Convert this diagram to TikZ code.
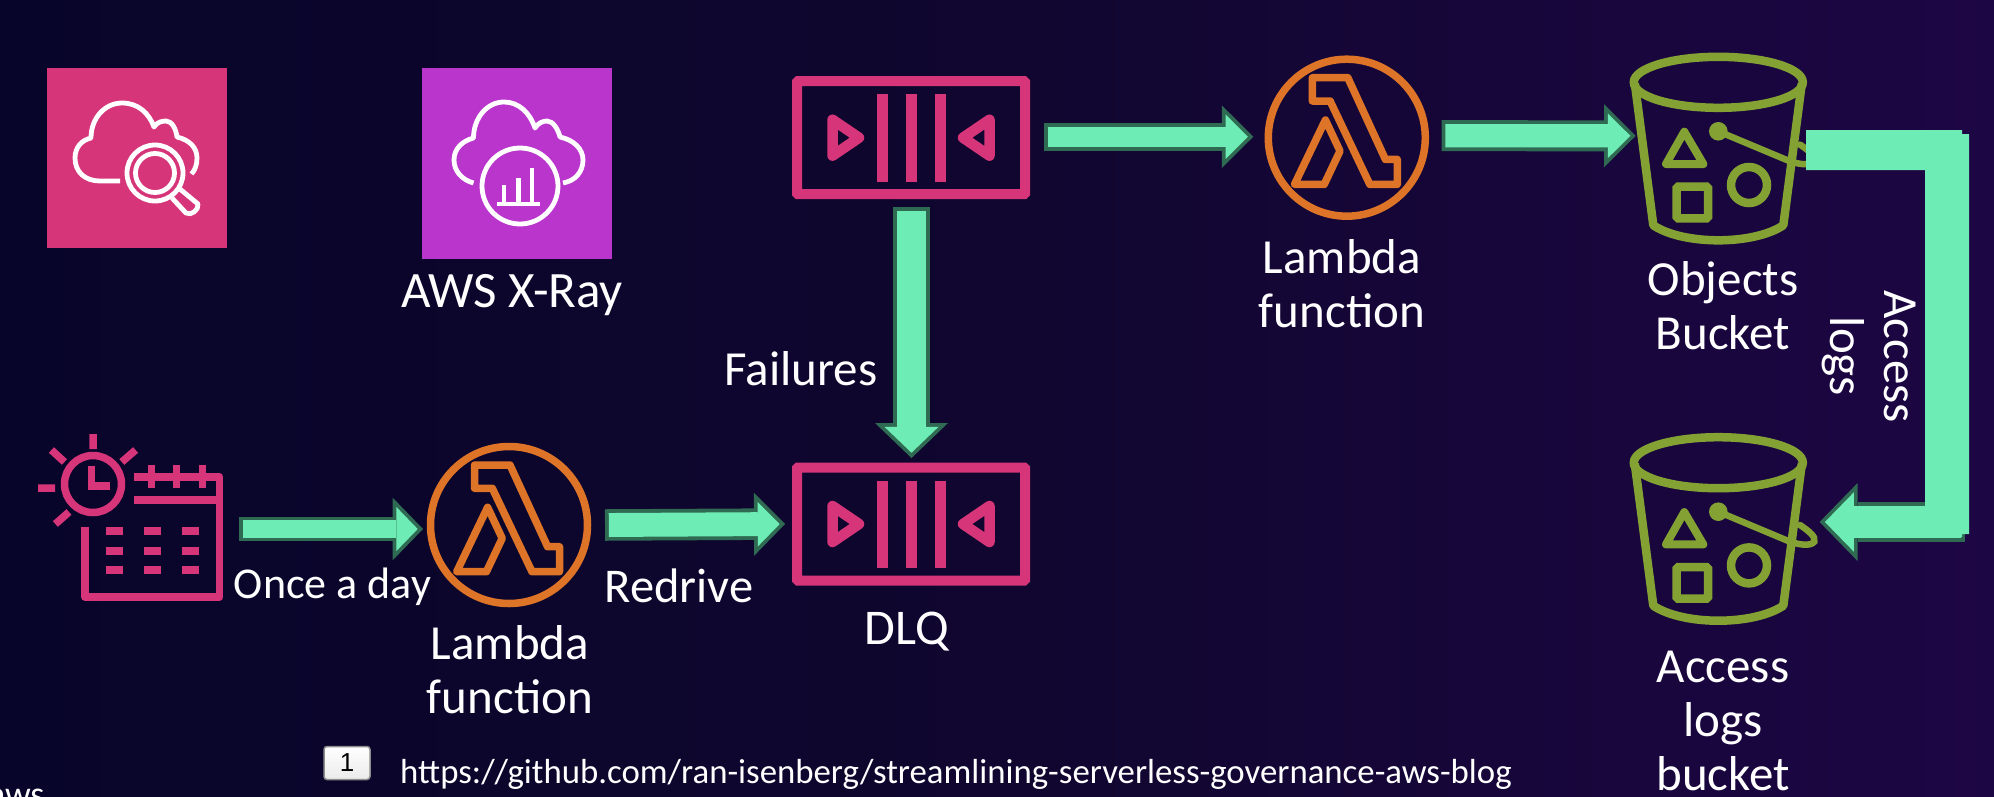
\documentclass[tikz,border=0pt]{standalone}
\usepackage{fontspec}
\setmainfont{Carlito}
\newfontfamily\keyfont{Liberation Sans}
\usetikzlibrary{arrows.meta,calc}
\definecolor{bgL}{HTML}{08052A}
\definecolor{bgM}{HTML}{10062F}
\definecolor{bgR}{HTML}{1D0644}
\definecolor{pinkc}{HTML}{D6357A}
\definecolor{purplec}{HTML}{B935CC}
\definecolor{orangec}{HTML}{DE7427}
\definecolor{olivec}{HTML}{84A233}
\definecolor{flowlight}{HTML}{6DEDB5}
\definecolor{flowdark}{HTML}{2F6B53}
\tikzset{
  box/.style={inner sep=0pt,outer sep=0pt,minimum width=#1},
  txt/.style={text=white,inner sep=0pt,outer sep=0pt,align=center,font=\fontsize{49}{54}\selectfont},
  whiteicon/.style={draw=white,line width=4.8pt,line join=round},
  pinkline/.style={draw=pinkc,line width=7.5pt},
  queuepic/.pic={
    \draw[pinkc,line width=10pt,rounded corners=1pt] (-114,-56.5) rectangle (114,56.5);
    \foreach \bx in {-29,0,29} \draw[pinkc,line width=11pt] (\bx,-43.5) -- (\bx,44);
    \draw[pinkc,line width=10.5pt,line join=round] (-78.5,-18) -- (-52,0) -- (-78.5,18) -- cycle;
    \draw[pinkc,line width=10.5pt,line join=round] (78.5,-18) -- (52,0) -- (78.5,18) -- cycle;
  },
  lambdapic/.pic={
    \draw[orangec,line width=7.5pt] (0,0) circle (78.5);
    \draw[orangec,line width=7.5pt,line join=round] (-34.5,-60) -- (1,-60) -- (38.6,21.7) -- (50.5,21.7) -- (50.5,46.7) -- (23,46.7) -- (-16.7,-36.7) -- (-34.5,-36.7) -- cycle;
    \draw[orangec,line width=7.5pt,line join=round] (-21.4,-17.7) -- (-6.8,13.3) -- (-22.6,46.7) -- (-52.3,46.7) -- cycle;
  },
  bucketpic/.pic={
    \draw[olivec,line width=8.5pt] (0,0) ellipse [x radius=84.5,y radius=25.5];
    \draw[olivec,line width=8.5pt,line join=round] (-83.5,1) -- (-65,143) .. controls (-50,153) and (-25,158) .. (0,158) .. controls (25,158) and (50,153) .. (65,143) -- (83.5,1);
    \draw[olivec,line width=8pt,line join=round] (-34,49.4) -- (-52.3,81.7) -- (-15,81.7) -- cycle;
    \draw[olivec,line width=8.5pt,rounded corners=1.5pt] (-41.6,104.4) rectangle (-10.3,136);
    \draw[olivec,line width=8.5pt] (30.7,102.7) circle (18);
    \fill[olivec] (0,49) circle (9.3);
    \draw[olivec,line width=6.5pt,line cap=round] (0,49) -- (70,78.3) .. controls (80,82) and (92,84) .. (96,79) .. controls (98,74) and (90,68) .. (81.7,62.3);
  },
}
\newcommand{\flow}[5]{%
  \pgfmathsetmacro{\flowT}{3.8}%
  \pgfmathsetmacro{\flowS}{\flowT*sqrt(#5*#5+#4*#4/4)/(#4/2)}%
  \pgfmathsetmacro{\flowL}{#5-\flowS-\flowT}%
  \pgfmathsetmacro{\flowW}{\flowL*#4/#5}%
  \pgfmathsetmacro{\flowI}{#3-2*\flowT}%
  \draw[flowdark,line width=#3pt,-{Triangle[length=#5pt,width=#4pt,line width=0pt]}] #1 -- #2;
  \draw[flowlight,line width=\flowI pt,shorten <=\flowT pt,shorten >=\flowS pt,-{Triangle[length=\flowL pt,width=\flowW pt,line width=0pt]}] #1 -- #2;
}
\begin{document}
\begin{tikzpicture}[x=1pt,y=-1pt]
\useasboundingbox (0,0) rectangle (1994,796);
\shade[left color=bgL,right color=bgR,middle color=bgM] (0,0) rectangle (1994,796);

% square service icons
\node[box=180,minimum height=180,fill=pinkc] (cw) at (137,158) {};
\begin{scope}[whiteicon]
  \draw (120,181) -- (100,181) .. controls (85,181) and (75,172) .. (75,158) .. controls (75,147) and (82,140) .. (91,138) .. controls (91,118) and (105,103) .. (122,103) .. controls (138,103) and (149,113) .. (154,127) .. controls (157,122) and (162,121) .. (166,121) .. controls (172,121) and (176,129) .. (177,137) .. controls (190,140) and (197,148) .. (197,158) .. controls (197,165) and (195,170) .. (191.5,174);
  \draw (155,173) circle (28);
  \draw (155,173) circle (19.5);
  \draw (172,198) -- (186,213) .. controls (191,216) and (199,210) .. (198,204) -- (180,189);
\end{scope}
\node[box=190,minimum height=191,fill=purplec] (xray) at (517,163.5) {};
\begin{scope}[whiteicon]
  \draw (473.5,183) .. controls (462,180) and (454,171) .. (454,160) .. controls (454,149) and (462,141) .. (473.5,138) .. controls (473.5,118) and (487,102) .. (504,102) .. controls (519,102) and (530,113) .. (535,128) .. controls (538,123) and (543,121) .. (547,121) .. controls (553,121) and (558,129) .. (560,137) .. controls (574,140) and (583,149) .. (583,160) .. controls (583,172) and (575,181) .. (563,183);
  \draw (520,186) circle (38);
  \draw (497,204) -- (540,204);
  \draw (504,204) -- (504,185) (518.5,204) -- (518.5,178) (532,204) -- (532,168);
\end{scope}
\node[txt,font=\fontsize{51}{54}\selectfont,anchor=base] (xraylabel) at (512,307) {AWS X-Ray};

% scheduler
\node[box=184,minimum height=168] (sched) at (130,517) {};
\begin{scope}[pinkline]
  \draw (93,484) circle (28.5);
  \draw[line join=miter] (91.7,466) -- (91.7,486) -- (109.5,486);
  \draw (93,434) -- (93,449) (38,488) -- (55,488) (51.4,450) -- (64.5,462) (135.6,450) -- (121.8,462) (69,512) -- (55.4,524);
  \draw[line join=round] (134.4,477) -- (219.5,477) -- (219.5,597) -- (85,597) -- (85,527);
  \draw (134.4,500) -- (219.5,500);
  \draw (151.4,465) -- (151.4,488) (176.7,465) -- (176.7,488) (202.5,465) -- (202.5,488);
  \foreach \dy in {531,551,570} {
    \draw (106,\dy) -- (122.6,\dy) (143.5,\dy) -- (160.5,\dy) (182,\dy) -- (198.5,\dy);
  }
\end{scope}

% lambdas
\pic at (509,525) {lambdapic};
\node[box=165,minimum height=164] (lam2) at (509,525) {};
\pic at (1346.8,137.7) {lambdapic};
\node[box=165,minimum height=164] (lam1) at (1346.8,137.7) {};

% queues
\pic at (911,137.7) {queuepic};
\node[box=238,minimum height=121] (q1) at (911,137.7) {};
\pic at (911,524) {queuepic};
\node[box=238,minimum height=122] (dlq) at (911,524) {};

% buckets
\pic at (1718.3,82.3) {bucketpic};
\node[box=176.6,minimum height=59] (obj) at (1718.3,82.3) {};
\pic at (1718.3,462.7) {bucketpic};
\node[box=176.6,minimum height=59] (acc) at (1718.3,462.7) {};

% connectors
\flow{($(sched.east)+(17,12)$)}{($(lam2.west)+(-3.5,4)$)}{24.7}{62.7}{30.4}
\flow{($(lam2.east)+(13.5,0)$)}{($(dlq.west)+(-7,0)$)}{31.5}{63}{31}
\flow{($(q1.east)+(14,-1)$)}{($(lam1.west)+(-11,-1)$)}{28}{62.7}{31.5}
\flow{($(lam1.east)+(12.2,-2)$)}{($(obj.west)+(5.7,53.5)$)}{31}{63}{31.7}
\flow{($(q1.south)+(0.5,9)$)}{($(dlq.north)+(0.5,-5)$)}{37}{73}{35}
\flow{($(acc.east)+(158,59.3)$)}{($(acc.east)+(13,59.3)$)}{40}{78}{38}
\fill[flowlight] ($(obj.east)+(-0.6,47.7)$) -- ++(156,0) -- ++(0,4) -- ++(7,0) -- ++(0,400) -- ++(-7,0) -- ++(0,3) -- ++(-37,0) -- ++(0,-367) -- ++(-119,0) -- cycle;

% labels
\node[txt,anchor=base] (l1) at (1342,327) {Lambda\\function};
\node[txt,anchor=base] (l2) at (510,713) {Lambda\\function};
\node[txt,font=\fontsize{44}{54}\selectfont,anchor=base] (once) at (332.5,598) {Once a day};
\node[txt,font=\fontsize{48.5}{54}\selectfont,anchor=base] (redrive) at (679,602) {Redrive};
\node[txt,font=\fontsize{50}{54}\selectfont,anchor=base] (dlqlabel) at (906.5,644) {DLQ};
\node[txt,font=\fontsize{49}{54}\selectfont,anchor=base] (fail) at (801,385) {Failures};
\node[txt,anchor=base] (objlabel) at (1723,349) {Objects\\Bucket};
\node[txt,anchor=base] (acclabel) at (1723,790) {Access\\logs\\bucket};
\node[txt,rotate=-90,anchor=center] (logslabel) at (1869,356.5) {Access\\logs};
\node[txt,font=\fontsize{34.8}{40}\selectfont,anchor=base] (url) at (956,783) {https://github.com/ran-isenberg/streamlining-serverless-governance-aws-blog};
\node[draw=black!45,line width=1.5pt,rounded corners=3pt,top color=white,bottom color=black!8,minimum width=46,minimum height=33,inner sep=0pt,font=\keyfont\fontsize{26}{26}\selectfont] (key) at (347,763) {1};
\node[txt,font=\fontsize{36}{36}\selectfont,anchor=base west] (aws) at (-12,806) {aws};
\end{tikzpicture}
\end{document}
